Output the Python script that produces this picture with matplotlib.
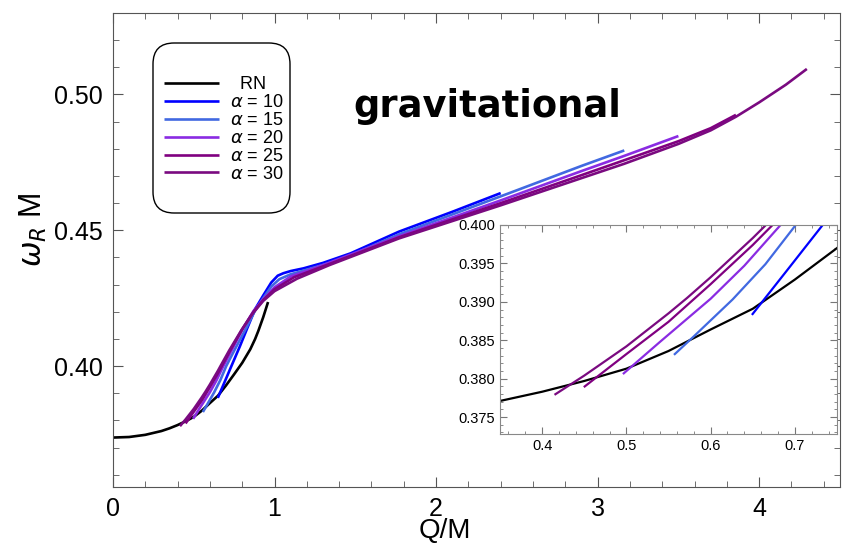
import numpy as np
import matplotlib
matplotlib.use('Agg')
import matplotlib.pyplot as plt
from matplotlib.patches import FancyBboxPatch
from matplotlib.ticker import MultipleLocator, FormatStrFormatter

plt.rcParams['font.family'] = ['Liberation Sans', 'DejaVu Sans']
plt.rcParams['mathtext.fontset'] = 'dejavusans'

# RN curve
q_rn = [0, 0.1, 0.2, 0.3, 0.35, 0.4, 0.45, 0.5, 0.55, 0.6, 0.65, 0.7, 0.75, 0.8, 0.85, 0.88, 0.9, 0.93, 0.96]
w_rn = [0.3737, 0.3739, 0.3747, 0.3761, 0.3771, 0.3783, 0.3797, 0.3813, 0.3836, 0.3864,
        0.3891, 0.3929, 0.3970, 0.4012, 0.4062, 0.4100, 0.4130, 0.4180, 0.4236]

# alpha = 10
q_a10 = [0.649, 0.69, 0.733, 0.785, 0.826, 0.88, 0.93, 0.98, 1.02, 1.055, 1.1, 1.18, 1.3, 1.47, 1.77, 2.1, 2.4]
w_a10 = [0.3883, 0.3940, 0.4000, 0.4072, 0.4132, 0.4210, 0.4260, 0.4308, 0.4333, 0.4342,
         0.4350, 0.4360, 0.4380, 0.4415, 0.4495, 0.4568, 0.4637]
# alpha = 15
q_a15 = [0.5565, 0.58, 0.626, 0.665, 0.701, 0.76, 0.82, 0.88, 0.93, 0.98, 1.03, 1.1, 1.2, 1.4, 1.77, 2.4, 2.9, 3.165]
w_a15 = [0.3831, 0.3855, 0.3903, 0.3949, 0.4000, 0.4068, 0.4135, 0.4205, 0.4250, 0.4293,
         0.4320, 0.4338, 0.4355, 0.4390, 0.4485, 0.4625, 0.4737, 0.4794]
# alpha = 20
q_a20 = [0.4959, 0.54, 0.60, 0.64, 0.683, 0.74, 0.80, 0.87, 0.93, 1.0, 1.1, 1.3, 1.77, 2.4, 2.9, 3.165, 3.5]
w_a20 = [0.3806, 0.3848, 0.3904, 0.3947, 0.4000, 0.4065, 0.4133, 0.4203, 0.4246, 0.4290,
         0.4330, 0.4372, 0.4478, 0.4610, 0.4718, 0.4774, 0.4847]
# alpha = 25
q_a25 = [0.4495, 0.50, 0.55, 0.60, 0.65, 0.6735, 0.73, 0.80, 0.87, 0.93, 1.0, 1.12, 1.34, 1.77, 2.4,
         2.9, 3.165, 3.5, 3.7, 3.856]
w_a25 = [0.3789, 0.3832, 0.3874, 0.3923, 0.3974, 0.4000, 0.4062, 0.4136, 0.4200, 0.4243,
         0.4283, 0.4327, 0.4376, 0.4474, 0.4600, 0.4703, 0.4758, 0.4828, 0.4876, 0.4925]
# alpha = 30
q_a30 = [0.4147, 0.45, 0.50, 0.55, 0.572, 0.60, 0.65, 0.6656, 0.72, 0.795, 0.86, 0.93, 1.0, 1.14, 1.34,
         1.77, 2.4, 2.9, 3.165, 3.5, 3.7, 3.856, 4.0, 4.165, 4.295]
w_a30 = [0.3779, 0.3804, 0.3842, 0.3885, 0.3905, 0.3932, 0.3983, 0.4000, 0.4058, 0.4132,
         0.4190, 0.4240, 0.4276, 0.4322, 0.4372, 0.4470, 0.4592, 0.4692, 0.4745, 0.4818,
         0.4868, 0.4918, 0.4971, 0.5036, 0.5094]

labels = ["  RN", r"$\alpha$ = 10", r"$\alpha$ = 15", r"$\alpha$ = 20", r"$\alpha$ = 25", r"$\alpha$ = 30"]
colors = ["black", "#0000ff", "#4169e1", "#8a2be2", "#800080", "#7a0a80"]
series = [(q_rn, w_rn), (q_a10, w_a10), (q_a15, w_a15), (q_a20, w_a20), (q_a25, w_a25), (q_a30, w_a30)]

fig = plt.figure(figsize=(8.43, 5.44), dpi=100)
ax = fig.add_axes([0.134, 0.1048, 0.8624, 0.8713])
lines = []
for (q, w), c, lab in zip(series, colors, labels):
    l, = ax.plot(q, w, color=c, lw=1.9, label=lab, solid_capstyle='butt', solid_joinstyle='round')
    lines.append(l)

ax.set_xlim(0, 4.5)
ax.set_ylim(0.3555, 0.53)
ax.xaxis.set_major_locator(MultipleLocator(1))
ax.xaxis.set_minor_locator(MultipleLocator(0.2))
ax.yaxis.set_major_locator(MultipleLocator(0.05))
ax.yaxis.set_minor_locator(MultipleLocator(0.01))
ax.yaxis.set_major_formatter(FormatStrFormatter('%.2f'))
ax.tick_params(which='both', direction='in', top=True, right=True, color='#555555')
ax.tick_params(which='major', length=7, labelsize=18, pad=7)
ax.tick_params(which='minor', length=4)
for s in ax.spines.values():
    s.set_color('#555555')
ax.set_xlabel("Q/M", fontsize=20)
ax.set_ylabel(r"$\omega_R$ M", fontsize=22)
ax.xaxis.set_label_coords(0.457, -0.066)
ax.yaxis.set_label_coords(-0.088, 0.542)

ax.text(2.32, 0.4955, "gravitational", fontsize=26.5, fontweight='bold',
        family=['DejaVu Sans'], ha='center', va='center')

# legend box
box = FancyBboxPatch((153/843, 1-213/544), 137/843, 170/544,
                     boxstyle="round,pad=0,rounding_size=0.025", mutation_aspect=843/544,
                     transform=fig.transFigure, facecolor='white', edgecolor='black', lw=1.0,
                     zorder=4)
ax.add_patch(box)
leg = ax.legend(handles=lines, loc='center', bbox_to_anchor=(0.266, 0.762),
                bbox_transform=fig.transFigure, frameon=False, fontsize=13,
                handlelength=3.0, labelspacing=0.05, handletextpad=0.65)
leg.set_zorder(6)

# inset
axi = fig.add_axes([0.5931, 0.2022, 0.3998, 0.3842])
for (q, w), c in zip(series, colors):
    axi.plot(q, w, color=c, lw=1.6, solid_capstyle='butt', solid_joinstyle='round')
axi.set_xlim(0.35, 0.75)
axi.set_ylim(0.3728, 0.400)
axi.xaxis.set_major_locator(MultipleLocator(0.1))
axi.xaxis.set_minor_locator(MultipleLocator(0.02))
axi.yaxis.set_major_locator(MultipleLocator(0.005))
axi.yaxis.set_minor_locator(MultipleLocator(0.001))
axi.yaxis.set_major_formatter(FormatStrFormatter('%.3f'))
axi.xaxis.set_major_formatter(FormatStrFormatter('%.1f'))
axi.tick_params(which='both', direction='in', top=True, right=True, color='#777777')
axi.tick_params(which='major', length=5, labelsize=10.5)
axi.tick_params(which='minor', length=2.5)
for s in axi.spines.values():
    s.set_color('#888888')

plt.savefig("out.png", dpi=100)
